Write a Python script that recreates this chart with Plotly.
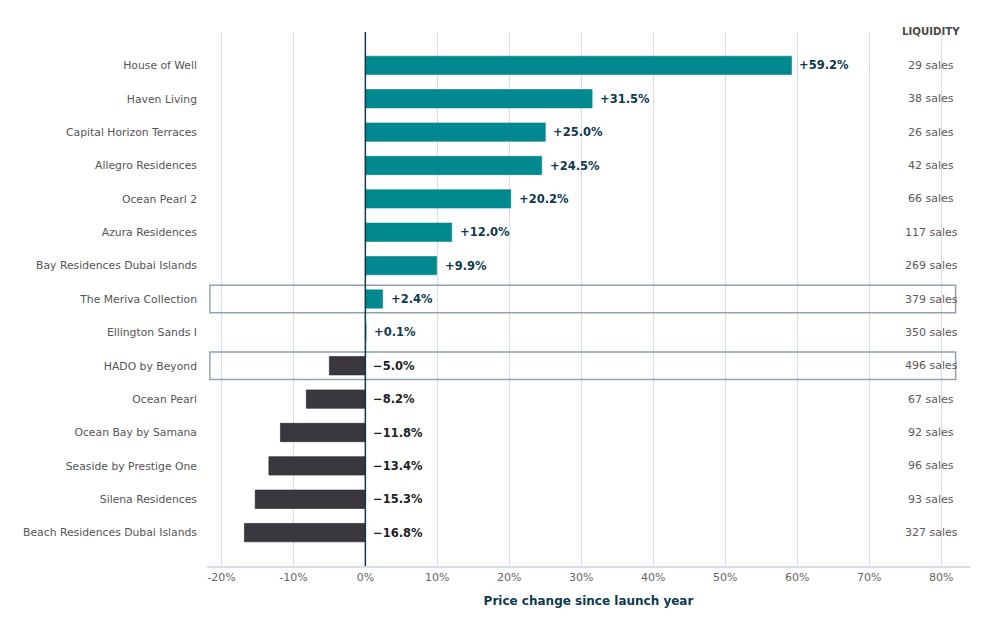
import plotly.graph_objects as go

projects = [
    "House of Well", "Haven Living", "Capital Horizon Terraces", "Allegro Residences",
    "Ocean Pearl 2", "Azura Residences", "Bay Residences Dubai Islands",
    "The Meriva Collection", "Ellington Sands I", "HADO by Beyond", "Ocean Pearl",
    "Ocean Bay by Samana", "Seaside by Prestige One", "Silena Residences",
    "Beach Residences Dubai Islands",
]
price_change = [59.2, 31.5, 25.0, 24.5, 20.2, 12.0, 9.9, 2.4, 0.1, -5.0, -8.2,
                -11.8, -13.4, -15.3, -16.8]
sales = [29, 38, 26, 42, 66, 117, 269, 379, 350, 496, 67, 92, 96, 93, 327]
highlighted = ["The Meriva Collection", "HADO by Beyond"]
x_ticks = [-20, -10, 0, 10, 20, 30, 40, 50, 60, 70, 80]

TEAL = "#008a8f"
DARK = "#3a373e"
NAVY = "#0d3a4e"
FONT = "DejaVu Sans"

idx = list(range(len(projects)))
colors = [TEAL if v > 0 else DARK for v in price_change]
outline = ["#0a7f84" if v > 0 else "#222026" for v in price_change]

fig = go.Figure()
fig.add_trace(go.Bar(
    y=idx, x=price_change, orientation="h", width=0.55,
    marker=dict(color=colors, line=dict(color=outline, width=0.6)),
    hoverinfo="skip", showlegend=False,
))

# highlight boxes
for name in highlighted:
    i = projects.index(name)
    fig.add_shape(type="rect", xref="x", yref="y",
                  x0=-21.6, x1=82.0, y0=i - 0.41, y1=i + 0.41,
                  line=dict(color="#8fa3b3", width=1.5), fillcolor="rgba(0,0,0,0)",
                  layer="above")

# value labels
for i, v in enumerate(price_change):
    if v >= 0:
        txt = f"+{v:.1f}%"
        col = NAVY
    else:
        txt = f"\u2212{abs(v):.1f}%"
        col = "#222226"
    fig.add_annotation(x=max(v, 0), y=i, text=f"<b>{txt}</b>", showarrow=False,
                       xanchor="left", xshift=6,
                       font=dict(family=FONT, size=11.5, color=col))

# liquidity column
fig.add_annotation(x=78.6, y=-1, text="<b>LIQUIDITY</b>", showarrow=False,
                   yshift=1, font=dict(family=FONT, size=10.2, color="#4a4a4a"))
for i, s in enumerate(sales):
    fig.add_annotation(x=78.6, y=i, text=f"{s} sales", showarrow=False,
                       font=dict(family=FONT, size=11, color="#5a5a5a"))

fig.add_shape(type="line", xref="x", yref="paper", x0=0, x1=0, y0=0, y1=1,
              line=dict(color=NAVY, width=1.5), layer="above")

fig.update_layout(
    width=1000, height=636,
    margin=dict(l=199, r=38, t=24, b=78),
    plot_bgcolor="white", paper_bgcolor="white",
    font=dict(family=FONT, size=11, color="#555555"),
    bargap=0.45,
    xaxis=dict(
        range=[-22, 84], tickvals=x_ticks,
        ticktext=[f"{t}%" for t in x_ticks],
        showgrid=True, gridcolor="#d6dde6", gridwidth=1, zeroline=False,
        showline=True, linecolor="#d6dde6", linewidth=1.5,
        tickfont=dict(family=FONT, size=11, color="#666666"),
        title=dict(text="<b>Price change since launch year</b>",
                   font=dict(family=FONT, size=12, color=NAVY), standoff=14),
    ),
    yaxis=dict(
        range=[15, -1], tickvals=idx, ticktext=projects,
        showgrid=False, zeroline=False, showline=False, ticks="",
        ticklabelstandoff=9,
        tickfont=dict(family=FONT, size=10.8, color="#555555"),
    ),
)

fig.write_html("out.html")
